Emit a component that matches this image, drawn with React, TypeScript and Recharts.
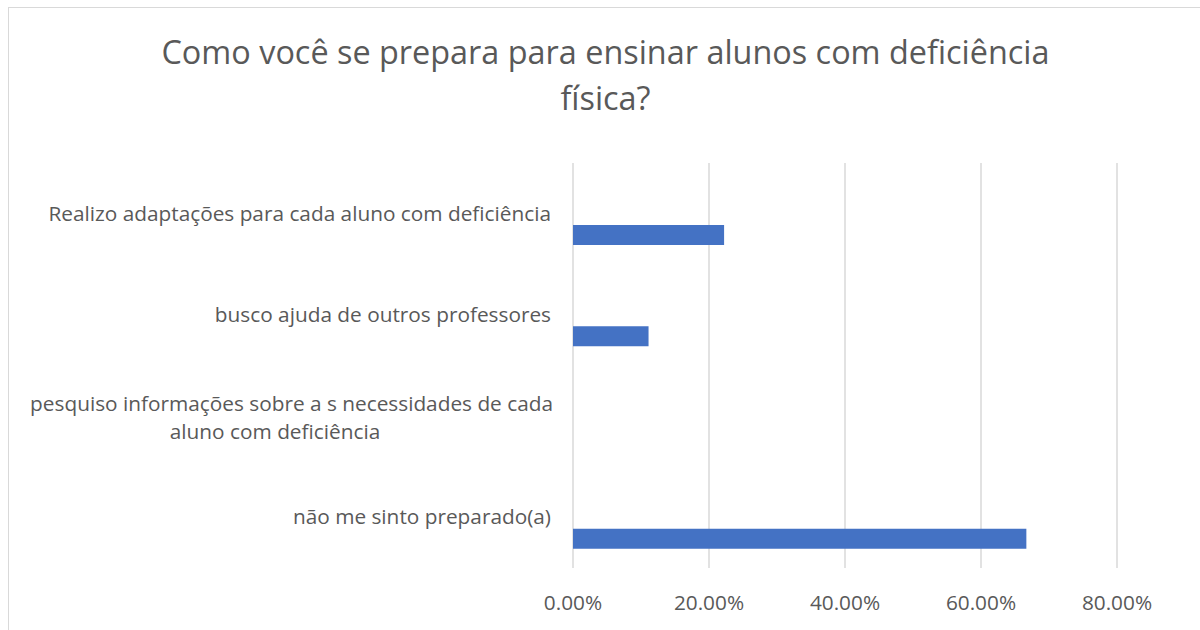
import React from "react";
import { BarChart, Bar, XAxis, YAxis, CartesianGrid } from "recharts";

const categorias: string[] = [
    "Realizo adaptações para cada aluno com deficiência",
    "busco ajuda de outros professores",
    "pesquiso informações sobre a s necessidades de cada\naluno com deficiência",
    "não me sinto preparado(a)",
];
// Second series in the Excel sheet was empty, it only reserves the slot above the bar
const serieVazia: (number | null)[] = [null, null, null, null];
const percentuais: number[] = [0.2222, 0.1111, 0, 0.6667];
const ticksX: number[] = [0, 0.2, 0.4, 0.6, 0.8];

const tituloLinhas: string[] = ["Como você se prepara para ensinar alunos com deficiência", "física?"];

const COR_TEXTO = "#595959";
const COR_BARRA = "#4472C4";
const COR_GRADE = "#d9d9d9";
const FONTE = "'Open Sans', sans-serif";
const TAM_EIXO = 20.8;

const dados = categorias.map((nome, i) => ({
    nome,
    vazio: serieVazia[i],
    valor: percentuais[i],
}));

const formatarPct = (v: number) => `${(v * 100).toFixed(2)}%`;

const TickCategoria = ({ x, y, payload }: any) => {
    const linhas: string[] = String(payload.value).split("\n");
    if (linhas.length === 1) {
        return (
            <text x={x - 14} y={y + 7} textAnchor="end" fill={COR_TEXTO} fontSize={TAM_EIXO} fontFamily={FONTE}>
                {linhas[0]}
            </text>
        );
    }
    // wrapped label: first line ends near the axis, the rest centred under it
    return (
        <g>
            <text x={x - 12} y={y - 5} textAnchor="end" fill={COR_TEXTO} fontSize={TAM_EIXO} fontFamily={FONTE}>
                {linhas[0]}
            </text>
            {linhas.slice(1).map((l, i) => (
                <text key={i} x={x - 290} y={y + 23 + i * 28} textAnchor="middle" fill={COR_TEXTO} fontSize={TAM_EIXO} fontFamily={FONTE}>
                    {l}
                </text>
            ))}
        </g>
    );
};

export default function App() {
    return (
        <div style={{ position: "absolute", left: 0, top: 0, width: 1200, height: 630, overflow: "hidden", background: "#fff" }}>
            {/* chart frame, runs off the right and bottom edge like the screenshot */}
            <div style={{ position: "absolute", left: 8, top: 7, width: 1250, height: 700, border: `1.5px solid ${COR_GRADE}`, boxSizing: "border-box" }} />
            <div style={{ position: "absolute", left: 0, top: 28, width: 1211, textAlign: "center", fontFamily: FONTE, fontSize: 32.4, color: COR_TEXTO, lineHeight: "46px" }}>
                {tituloLinhas.map((l, i) => (
                    <div key={i}>{l}</div>
                ))}
            </div>
            <div style={{ position: "absolute", left: 0, top: 0 }}>
                <BarChart
                    width={1200}
                    height={630}
                    data={dados}
                    layout="vertical"
                    margin={{ top: 163, right: 83, left: 0, bottom: 22 }}
                    barSize={20}
                    barGap={22}
                >
                    <CartesianGrid horizontal={false} stroke={COR_GRADE} strokeWidth={1.5} />
                    <XAxis
                        type="number"
                        domain={[0, 0.8]}
                        ticks={ticksX}
                        tickFormatter={formatarPct}
                        axisLine={false}
                        tickLine={false}
                        height={40}
                        tick={{ fill: COR_TEXTO, fontSize: TAM_EIXO, fontFamily: FONTE }}
                        tickMargin={21}
                        interval={0}
                    />
                    <YAxis
                        type="category"
                        dataKey="nome"
                        width={573}
                        axisLine={false}
                        tickLine={false}
                        tick={<TickCategoria />}
                        interval={0}
                    />
                    <Bar dataKey="vazio" fill={COR_BARRA} isAnimationActive={false} />
                    <Bar dataKey="valor" fill={COR_BARRA} isAnimationActive={false} />
                </BarChart>
            </div>
        </div>
    );
}
